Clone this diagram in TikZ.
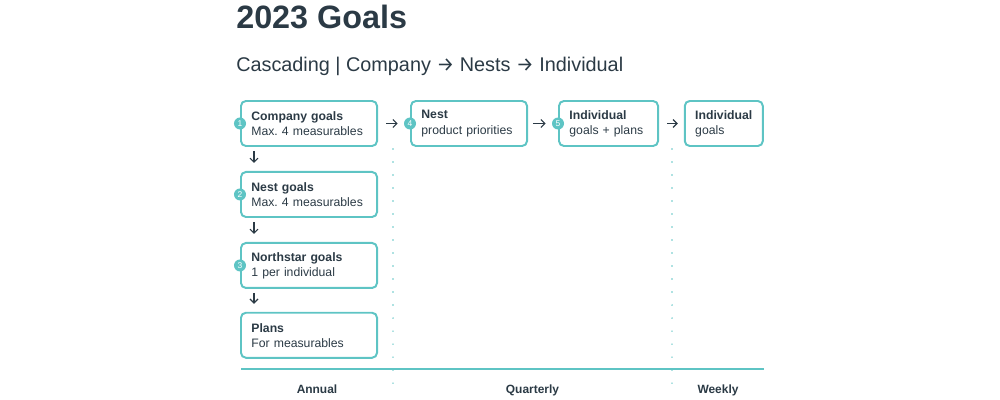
\documentclass[tikz,border=0pt]{standalone}
\usepackage{fontspec}
\setmainfont{Liberation Sans}
\newfontfamily\arrowfont{Fira Sans}
\usetikzlibrary{calc, positioning}
\usetikzlibrary{arrows.meta}

\definecolor{goalteal}{HTML}{5EC4C4}
\definecolor{goalink}{HTML}{2B3A45}

\frenchspacing
\tikzset{
  goalbox/.style={draw=goalteal, line width=1.4pt, rounded corners=3.5pt,
    minimum height=1.125cm, inner xsep=0.26cm, align=left, text=goalink,
    font=\fontsize{8.7}{10.8}\selectfont},
  stepnum/.style={circle, fill=goalteal, text=white, inner sep=0pt,
    minimum size=0.3cm, font=\fontsize{6}{6}\selectfont},
  flow/.style={-{Straight Barb[length=1mm, width=2mm]}, line width=0.8pt, draw=goalink},
  period/.style={goalteal, line width=1.2pt, line cap=round, dash pattern=on 0pt off 9.25pt},
  timeline/.style={goalteal, line width=1.4pt},
  spanlabel/.style={anchor=base, text=goalink, font=\bfseries\fontsize{8.5}{10}\selectfont}
}

\begin{document}
\begin{tikzpicture}[x=0.025cm, y=-0.025cm]
\useasboundingbox (0,0) rectangle (1000,400);

% heading
\node[anchor=base west, inner sep=0pt, text=goalink, font=\bfseries\fontsize{23}{23}\selectfont]
  (title) at (236,29) {2023 Goals};
\node[anchor=base west, inner sep=0pt, text=goalink, font=\fontsize{14.1}{14}\selectfont]
  (subtitle) at (236,72) {Cascading | Company {\arrowfont →} Nests {\arrowfont →} Individual};

% annual column
\node[goalbox, text width=2.88cm] (company) at (309,123.5) {\textbf{Company goals}\\Max. 4 measurables};
\node[goalbox, text width=2.88cm, below=0.6cm of company] (nestgoals) {\textbf{Nest goals}\\Max. 4 measurables};
\node[goalbox, text width=2.88cm, below=0.6cm of nestgoals] (northstar) {\textbf{Northstar goals}\\1 per individual};
\node[goalbox, text width=2.88cm, below=0.57cm of northstar] (plans) {\textbf{Plans}\\For measurables};

% quarterly and weekly
\node[goalbox, text width=2.38cm, right=0.8cm of company] (nest) {\textbf{Nest}\\product priorities};
\node[goalbox, text width=1.955cm, right=0.75cm of nest] (indplans) {\textbf{Individual}\\goals + plans};
\node[goalbox, text width=1.43cm, right=0.62cm of indplans] (indgoals) {\textbf{Individual}\\goals};

% step numbers
\node[stepnum] (s1) at (company.west) {1};
\node[stepnum] (s2) at (nestgoals.west) {2};
\node[stepnum] (s3) at (northstar.west) {3};
\node[stepnum] (s4) at (nest.west) {4};
\node[stepnum] (s5) at (indplans.west) {5};

% cascade arrows
\draw[flow] ([xshift=0.35cm, yshift=-0.1cm]company.south west) -- ([xshift=0.35cm, yshift=0.2cm]nestgoals.north west);
\draw[flow] ([xshift=0.35cm, yshift=-0.1cm]nestgoals.south west) -- ([xshift=0.35cm, yshift=0.2cm]northstar.north west);
\draw[flow] ([xshift=0.35cm, yshift=-0.1cm]northstar.south west) -- ([xshift=0.35cm, yshift=0.2cm]plans.north west);
\draw[flow, shorten <=0.2cm, shorten >=0.15cm] (company.east) -- (s4);
\draw[flow, shorten <=0.12cm, shorten >=0.15cm] (nest.east) -- (s5);
\draw[flow, shorten <=0.2cm, shorten >=0.15cm] (indplans.east) -- (indgoals.west);

% time periods
\coordinate (tl0) at (241,369);
\coordinate (tl1) at (764,369);
\draw[period] (393,149) -- (393,390);
\draw[period] (672,149) -- (672,390);
\draw[timeline] (tl0) -- (tl1);
\node[spanlabel] (annual) at (317,393) {Annual};
\node[spanlabel] (quarterly) at (532.5,393) {Quarterly};
\node[spanlabel] (weekly) at (718,393) {Weekly};
\end{tikzpicture}
\end{document}
